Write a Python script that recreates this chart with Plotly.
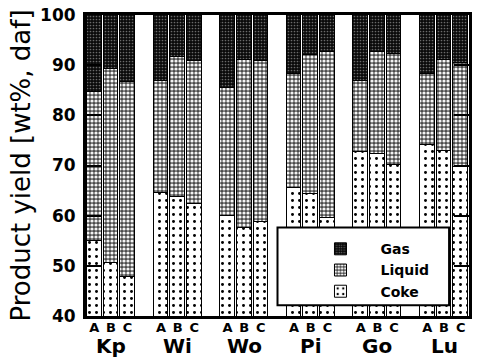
import plotly.graph_objects as go

groups = ["Kp", "Wi", "Wo", "Pi", "Go", "Lu"]
runs = ["A", "B", "C"]
coke = [55.0, 50.6, 47.8, 64.5, 63.7, 62.3, 60.0, 57.6, 58.8,
        65.5, 64.3, 59.5, 72.7, 72.3, 70.1, 74.1, 72.9, 69.7]
liquid = [29.7, 38.6, 38.9, 22.4, 27.9, 28.5, 25.5, 33.4, 32.0,
          22.7, 27.7, 33.1, 14.2, 20.3, 22.1, 14.1, 18.1, 20.7]
gas = [15.3, 10.8, 13.3, 13.1, 8.4, 9.2, 14.5, 9.0, 9.2,
       11.8, 8.0, 7.4, 13.1, 7.4, 7.8, 11.8, 9.0, 9.6]
yticks = [40, 50, 60, 70, 80, 90, 100]

xpos = [4 * g + j for g in range(len(groups)) for j in range(len(runs))]
xlabels = [r for g in groups for r in runs]
gcenters = [4 * g + 1 for g in range(len(groups))]

BOLD = "DejaVu Sans"

fig = go.Figure()
styles = {
    "Coke": dict(bgcolor="white", fgcolor="black", shape=".", size=7, solidity=0.14),
    "Liquid": dict(bgcolor="#4a4a4a", fgcolor="#f4f4f4", shape=".", size=4, solidity=0.5),
    "Gas": dict(bgcolor="#0a0a0a", fgcolor="#6a6a6a", shape=".", size=3, solidity=0.25),
}
for name, vals in [("Coke", coke), ("Liquid", liquid), ("Gas", gas)]:
    fig.add_trace(go.Bar(
        x=xpos, y=vals, name=name, width=0.88,
        marker=dict(color=styles[name]["bgcolor"],
                    line=dict(color="black", width=1),
                    pattern=dict(fillmode="replace", **styles[name])),
    ))

for gc, gname in zip(gcenters, groups):
    fig.add_annotation(x=gc, y=0, xref="x", yref="paper", text=gname,
                       showarrow=False, yanchor="top", yshift=-16,
                       font=dict(family=BOLD, size=20, color="black", weight="bold"))

fig.add_shape(type="rect", xref="paper", yref="paper",
              x0=0.5, x1=0.948, y0=0.036, y1=0.294,
              line=dict(color="black", width=2), fillcolor="white", layer="above")

fig.update_layout(
    width=477, height=361,
    margin=dict(l=86, r=5, t=13, b=45),
    barmode="stack", bargap=0,
    plot_bgcolor="white", paper_bgcolor="white",
    showlegend=True,
    legend=dict(x=0.56, y=0.275, xanchor="left", yanchor="top",
                traceorder="reversed", bgcolor="rgba(0,0,0,0)",
                itemwidth=70,
                font=dict(family=BOLD, size=14, color="black", weight="bold")),
    xaxis=dict(range=[-0.5, 22.5], tickvals=xpos, ticktext=xlabels,
               showline=True, linecolor="black", linewidth=3, mirror=True,
               ticks="", showgrid=False, zeroline=False,
               ticklabelstandoff=-3,
               tickfont=dict(family=BOLD, size=13, color="black", weight="bold")),
    yaxis=dict(range=[40, 100], tickvals=yticks,
               showline=True, linecolor="black", linewidth=3, mirror="allticks",
               ticks="inside", ticklen=15, tickwidth=1.5, tickcolor="black",
               showgrid=False, zeroline=False,
               ticklabelstandoff=4,
               tickfont=dict(family=BOLD, size=17, color="black", weight="bold"),
               title=dict(text="Product yield [wt%, daf]", standoff=2,
                          font=dict(family=BOLD, size=26, color="black"))),
)

fig.write_html("out.html")
